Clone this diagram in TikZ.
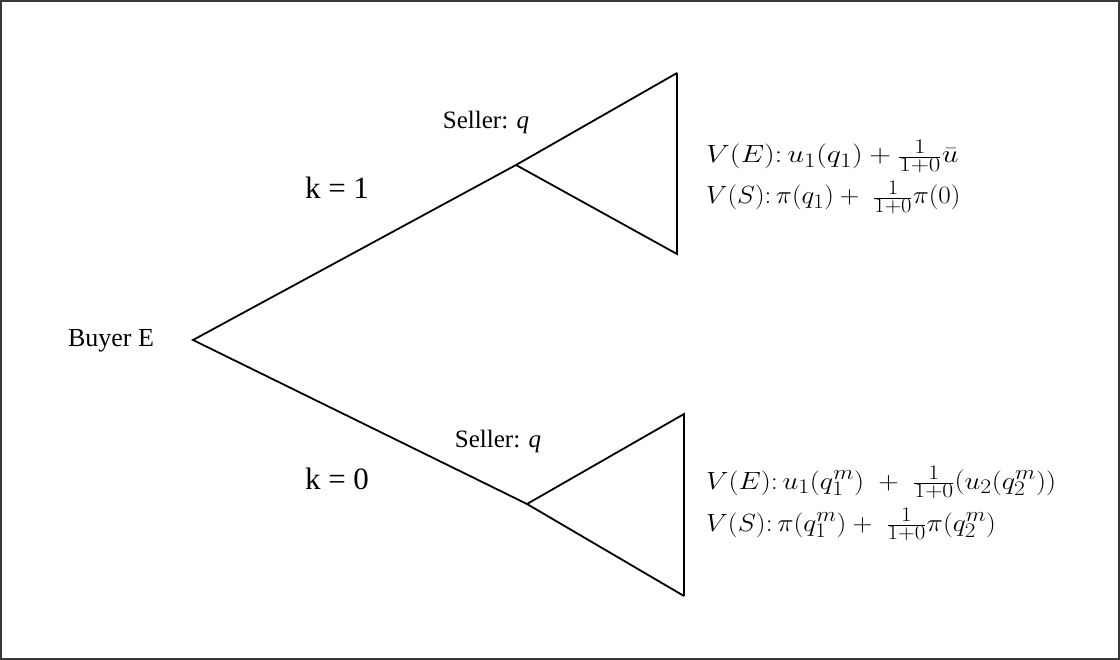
\documentclass[tikz,border=0pt]{standalone}
\usepackage{fontspec}
\setmainfont{Liberation Serif}
\begin{document}
\begin{tikzpicture}[x=1pt,y=-1pt,
  edge/.style={line width=1.8pt,line join=miter},
  txt/.style={inner sep=0pt,font=\fontsize{25}{28}\selectfont},
  big/.style={inner sep=0pt,font=\fontsize{31}{34}\selectfont},
  pay/.style={inner sep=0pt,anchor=base west,font=\fontsize{28}{30}\selectfont}]
\useasboundingbox (0,0) rectangle (1120,660);
\draw[line width=1.8pt,draw=black!78] (1,1) rectangle (1119,659);
% tree points
\coordinate (root) at (193,340);
\coordinate (s1) at (516,165);
\coordinate (t1) at (677,73);
\coordinate (b1) at (677,254);
\coordinate (s2) at (527,504);
\coordinate (t2) at (684,414);
\coordinate (b2) at (684,596);
% edges
\draw[edge] (t1) -- (s1) -- (root) -- (s2) -- (b2);
\draw[edge] (s1) -- (b1) -- (t1);
\draw[edge] (s2) -- (t2) -- (b2);
% labels
\node[txt,font=\fontsize{26}{28}\selectfont] (buyer) at (111,341) {Buyer E};
\node[txt] (sell1) at (486,122) {Seller: \textit{q}};
\node[txt] (sell2) at (498,441) {Seller: \textit{q}};
\node[big] (k1) at (337,188) {k = 1};
\node[big] (k0) at (337,479) {k = 0};
\node[pay] (ve1) at (706,163) {\scalebox{1.21}[1]{$V(E)\colon u_1(q_1)+\frac{1}{1+0}\bar{u}$}};
\node[pay] (vs1) at (706,204) {\scalebox{1.09}[1]{$V(S)\colon \pi(q_1)+\ \frac{1}{1+0}\pi(0)$}};
\node[pay] (ve2) at (706,489) {\scalebox{1.14}[1]{$V(E)\colon u_1(q_1^m)\ +\ \frac{1}{1+0}\big(u_2(q_2^m)\big)$}};
\node[pay] (vs2) at (706,531) {\scalebox{1.11}[1]{$V(S)\colon \pi(q_1^m)+\ \frac{1}{1+0}\pi(q_2^m)$}};
\end{tikzpicture}
\end{document}
